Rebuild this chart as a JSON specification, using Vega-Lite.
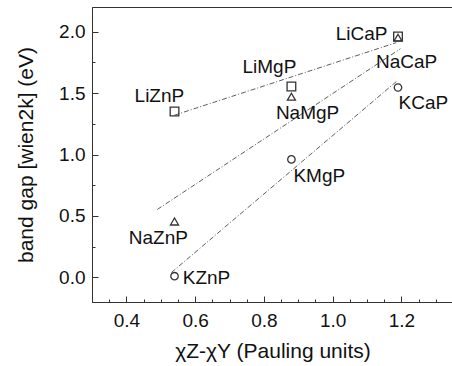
{
  "$schema": "https://vega.github.io/schema/vega-lite/v6.json",
  "autosize": {"type": "none"},
  "padding": {"left": 92, "top": 7, "right": 0, "bottom": 64},
  "width": 361,
  "height": 295,
  "background": "white",
  "config": {
    "view": {"stroke": "#333", "strokeWidth": 1},
    "font": "Liberation Sans",
    "axis": {"grid": false, "domainColor": "#333", "tickColor": "#333", "labelColor": "#111", "titleColor": "#111", "labelFont": "Liberation Sans", "titleFont": "Liberation Sans", "labelFontSize": 19, "titleFontSize": 21, "titleFontWeight": "normal"}
  },
  "resolve": {"axis": {"x": "independent", "y": "independent"}},
  "datasets": {
    "points": [
      {"name": "LiZnP", "series": "Li", "x": 0.54, "y": 1.35, "lx": 0.496, "ly": 1.472},
      {"name": "LiMgP", "series": "Li", "x": 0.88, "y": 1.553, "lx": 0.816, "ly": 1.715},
      {"name": "LiCaP", "series": "Li", "x": 1.19, "y": 1.96, "lx": 1.084, "ly": 1.984},
      {"name": "NaZnP", "series": "Na", "x": 0.54, "y": 0.455, "lx": 0.493, "ly": 0.317},
      {"name": "NaMgP", "series": "Na", "x": 0.88, "y": 1.47, "lx": 0.927, "ly": 1.341},
      {"name": "NaCaP", "series": "Na", "x": 1.19, "y": 1.95, "lx": 1.215, "ly": 1.756},
      {"name": "KZnP", "series": "K", "x": 0.54, "y": 0.01, "lx": 0.633, "ly": -0.008},
      {"name": "KMgP", "series": "K", "x": 0.88, "y": 0.96, "lx": 0.961, "ly": 0.829},
      {"name": "KCaP", "series": "K", "x": 1.19, "y": 1.545, "lx": 1.264, "ly": 1.415}
    ],
    "fits": [
      {"series": "Li", "x": 0.54, "y": 1.32},
      {"series": "Li", "x": 1.185, "y": 1.91},
      {"series": "Na", "x": 0.49, "y": 0.553},
      {"series": "Na", "x": 1.197, "y": 1.86},
      {"series": "K", "x": 0.531, "y": 0.04},
      {"series": "K", "x": 1.188, "y": 1.6}
    ]
  },
  "layer": [
    {
      "data": {"name": "fits"},
      "mark": {"type": "line", "color": "#333", "strokeWidth": 0.8, "strokeDash": [5, 2, 1, 2]},
      "encoding": {
        "x": {"field": "x", "type": "quantitative", "scale": {"domain": [0.3, 1.35], "nice": false, "zero": false},
          "axis": {"orient": "bottom", "title": "χZ-χY (Pauling units)", "values": [0.4, 0.6, 0.8, 1.0, 1.2], "format": ".1f",
            "tickSize": -6, "labelPadding": 15, "titlePadding": 10, "labelFlush": false, "labelOverlap": false}},
        "y": {"field": "y", "type": "quantitative", "scale": {"domain": [-0.2, 2.2], "nice": false, "zero": false},
          "axis": {"orient": "left", "title": "band gap [wien2k] (eV)", "values": [0, 0.5, 1.0, 1.5, 2.0], "format": ".1f",
            "tickSize": -6, "labelPadding": 13, "titlePadding": 22, "labelFlush": false, "labelOverlap": false}},
        "detail": {"field": "series"}
      }
    },
    {
      "data": {"name": "points"},
      "mark": {"type": "point", "filled": false, "color": "#333", "strokeWidth": 1.3, "opacity": 1},
      "encoding": {
        "x": {"field": "x", "type": "quantitative",
          "axis": {"orient": "bottom", "title": null, "labels": false, "domain": false, "values": [0.35,0.45,0.5,0.55,0.65,0.7,0.75,0.85,0.9,0.95,1.05,1.1,1.15,1.25,1.3], "tickSize": -3}},
        "y": {"field": "y", "type": "quantitative",
          "axis": {"orient": "left", "title": null, "labels": false, "domain": false, "values": [0.25, 0.75, 1.25, 1.75], "tickSize": -3}},
        "shape": {"field": "series", "type": "nominal", "scale": {"domain": ["Li", "Na", "K"], "range": ["square", "triangle-up", "circle"]}, "legend": null},
        "size": {"field": "series", "type": "nominal", "scale": {"domain": ["Li", "Na", "K"], "range": [75, 55, 45]}, "legend": null}
      }
    },
    {
      "data": {"name": "points"},
      "mark": {"type": "text", "align": "center", "baseline": "middle", "fontSize": 19, "color": "#111", "font": "Liberation Sans"},
      "encoding": {
        "x": {"field": "lx", "type": "quantitative", "axis": null},
        "y": {"field": "ly", "type": "quantitative", "axis": null},
        "text": {"field": "name"}
      }
    }
  ]
}
